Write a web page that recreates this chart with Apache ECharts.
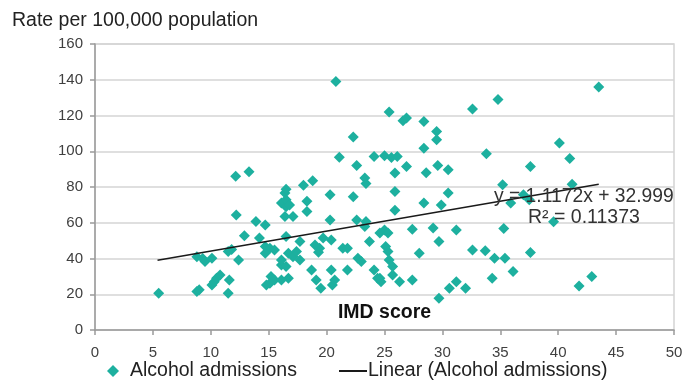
<!DOCTYPE html>
<html>
<head>
<meta charset="utf-8">
<script src="https://cdn.jsdelivr.net/npm/echarts@6/dist/echarts.min.js"></script>
<style>
html,body{margin:0;padding:0;background:#fff;}
#chart{width:686px;height:381px;}
</style>
</head>
<body>
<div id="chart"></div>
<script>
// ---- data ----
var yAxisTitle = 'Rate per 100,000 population';
var xAxisTitle = 'IMD score';
var scatterName = 'Alcohol admissions';
var trendName = 'Linear (Alcohol admissions)';
var xTicks = [0, 5, 10, 15, 20, 25, 30, 35, 40, 45, 50];
var yTicks = [0, 20, 40, 60, 80, 100, 120, 140, 160];
var equationText = 'y = 1.1172x + 32.999';
var r2Text = 'R\u00B2 = 0.11373';

// IMD score values (x) and rates (y) for each area
var imdScores = [
  5.5, 8.8, 9.0, 8.8, 9.5, 10.1, 9.3, 10.1, 10.5, 10.8, 10.3, 11.5, 11.6, 11.5, 11.8, 12.4,
  12.2, 12.15, 13.3, 12.9, 13.9, 14.7, 14.2, 14.7, 15.1, 14.7, 15.5, 15.2, 15.1, 15.5, 14.8,
  16.1, 16.5, 16.1, 16.4, 16.1, 16.5, 16.5, 16.8, 17.1, 16.4, 16.5, 16.7, 17.1, 17.4, 17.7,
  16.7, 16.1, 16.5, 18.0, 18.8, 18.3, 18.3, 17.7, 19.7, 20.4, 19.0, 19.4, 18.7, 19.1, 19.5,
  20.5, 20.7, 20.4, 20.3, 20.3, 20.8, 21.1, 21.4, 21.8, 21.8, 22.3, 22.6, 22.3, 22.6, 23.4,
  23.3, 23.3, 23.4, 22.7, 23.0, 23.7, 24.1, 24.6, 24.7, 24.1, 25.0, 25.6, 26.1, 25.4, 26.6,
  26.9, 28.4, 26.9, 25.9, 25.9, 25.9, 24.6, 25.0, 25.3, 25.1, 25.3, 25.4, 25.7, 25.7, 26.3,
  27.4, 27.4, 28.4, 29.9, 30.5, 28.0, 29.2, 29.7, 29.7, 30.6, 31.2, 32.0, 31.2, 32.6, 33.7,
  34.5, 35.4, 37.6, 36.1, 34.3, 35.3, 35.9, 37.0, 37.5, 39.6, 35.2, 41.2, 41.8, 42.9, 43.5,
  40.1, 41.0, 37.6, 33.8, 34.8, 32.6, 29.5, 29.5, 28.4, 28.6, 29.6, 30.5, 19.3, 24.4
];
var admissionRates = [
  20.5, 21.5, 22.5, 41.0, 38.3, 40.2, 40.0, 25.2, 29.0, 30.8, 27.0, 20.5, 28.0, 43.9, 45.0, 39.2,
  64.4, 86.0, 88.5, 52.7, 60.7, 58.8, 51.4, 46.7, 45.8, 43.0, 44.8, 29.9, 26.2, 28.0, 25.2,
  36.4, 35.5, 39.2, 76.6, 71.0, 69.0, 72.8, 70.0, 63.5, 63.5, 52.3, 42.9, 41.0, 43.9, 39.2,
  29.0, 28.0, 78.8, 81.0, 83.5, 72.0, 66.3, 49.5, 51.4, 50.4, 47.6, 45.8, 33.6, 28.0, 23.3,
  25.2, 28.0, 33.6, 61.6, 75.6, 139.0, 96.7, 45.8, 45.8, 33.6, 108.0, 92.0, 74.5, 61.6, 60.7,
  57.9, 85.0, 82.0, 40.2, 38.3, 49.5, 33.6, 29.0, 27.0, 97.0, 97.5, 96.5, 97.0, 122.0, 117.0,
  118.6, 116.7, 91.5, 87.8, 77.5, 67.0, 54.2, 56.0, 54.2, 46.7, 43.9, 39.2, 35.5, 30.8, 27.0,
  28.0, 56.4, 71.0, 70.0, 76.6, 43.0, 57.0, 49.5, 17.8, 23.3, 27.0, 23.3, 56.0, 44.8, 44.4,
  40.2, 40.2, 43.3, 32.7, 29.0, 56.8, 71.0, 75.6, 72.8, 60.5, 81.2, 81.5, 24.6, 30.0, 136.0,
  104.6, 96.0, 91.5, 98.6, 129.0, 123.6, 111.0, 106.5, 101.7, 88.0, 92.0, 89.6, 43.5, 29.0
];

// trend line end points
var trendX = [5.4, 43.5];
var trendY = [39.0, 81.6];

var scatterData = imdScores.map(function (x, i) { return [x, admissionRates[i]]; });
var trendData = trendX.map(function (x, i) { return [x, trendY[i]]; });

var textColor = '#404040';
var font = '"Liberation Sans", Arial, sans-serif';

var chart = echarts.init(document.getElementById('chart'), null, {renderer: 'canvas'});
chart.setOption({
  animation: false,
  backgroundColor: '#ffffff',
  textStyle: {fontFamily: font},
  title: {
    text: yAxisTitle,
    left: 7, top: 6,
    textStyle: {fontSize: 19.5, fontWeight: 'normal', color: '#222', fontFamily: font}
  },
  grid: {
    left: 95, right: 12, top: 44, bottom: 51,
    show: true, borderColor: '#d4d4d4', borderWidth: 1.5, backgroundColor: 'transparent'
  },
  legend: [{
    data: [{name: scatterName, icon: 'diamond'}],
    left: 102, top: 356,
    itemWidth: 12, itemHeight: 12,
    textStyle: {fontSize: 19.5, color: '#222', fontFamily: font, padding: [0, 0, 0, 6]}
  }, {
    data: [{name: trendName}],
    left: 333, top: 356,
    itemWidth: 28, itemHeight: 12,
    itemStyle: {opacity: 0},
    textStyle: {fontSize: 19.5, color: '#222', fontFamily: font, padding: [0, 0, 0, -4]}
  }],
  xAxis: {
    type: 'value', min: 0, max: 50, interval: 5,
    name: xAxisTitle, nameLocation: 'middle', nameGap: -27,
    nameTextStyle: {fontSize: 19.5, fontWeight: 'bold', color: '#111', fontFamily: font},
    axisLine: {show: true, lineStyle: {color: '#9a9a9a', width: 1.5}},
    axisTick: {show: true, length: 5, lineStyle: {color: '#9a9a9a', width: 1.5}},
    axisLabel: {fontSize: 15, color: textColor, margin: 15, fontFamily: font,
      formatter: function (v) { return xTicks.indexOf(v) >= 0 ? String(v) : ''; }},
    splitLine: {show: false}
  },
  yAxis: {
    type: 'value', min: 0, max: 160, interval: 20,
    axisLine: {show: true, lineStyle: {color: '#9a9a9a', width: 1.5}},
    axisTick: {show: true, length: 5, lineStyle: {color: '#9a9a9a', width: 1.5}},
    axisLabel: {fontSize: 15, color: textColor, margin: 12, fontFamily: font,
      formatter: function (v) { return yTicks.indexOf(v) >= 0 ? String(v) : ''; }},
    splitLine: {show: true, lineStyle: {color: '#d4d4d4', width: 1.5}}
  },
  graphic: [{
    type: 'text', left: 494, top: 187, z: 100,
    style: {text: equationText, fill: '#333', font: '19.3px ' + font}
  }, {
    type: 'text', left: 528, top: 208, z: 100,
    style: {text: r2Text, fill: '#333', font: '19.5px ' + font}
  }],
  series: [{
    name: scatterName,
    type: 'scatter',
    symbol: 'diamond',
    symbolSize: 11,
    itemStyle: {color: '#1DB09F', opacity: 1},
    data: scatterData,
    z: 2
  }, {
    name: trendName,
    type: 'line',
    symbol: 'none',
    lineStyle: {color: '#1a1a1a', width: 1.5},
    itemStyle: {color: '#1a1a1a'},
    data: trendData,
    z: 3
  }]
});
</script>
</body>
</html>
